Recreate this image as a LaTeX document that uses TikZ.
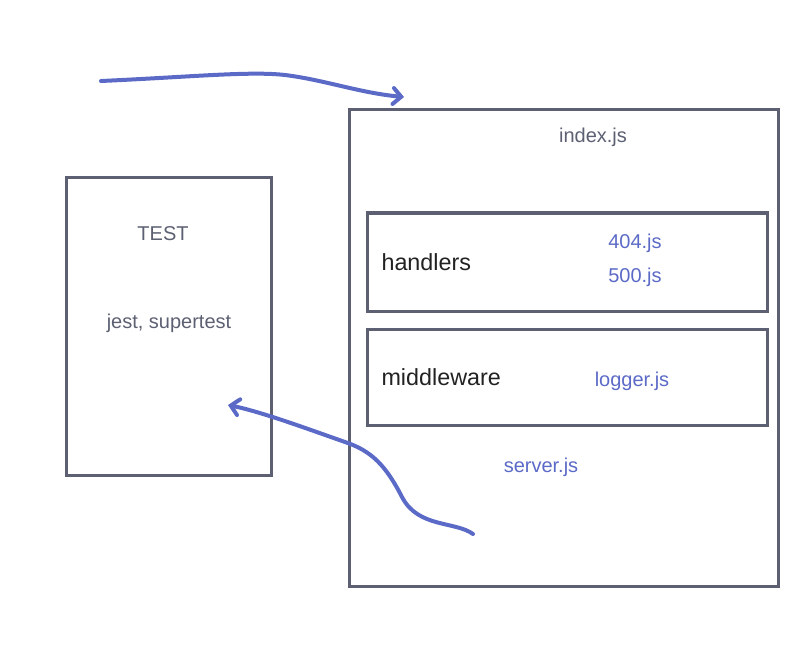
\documentclass[tikz,border=0pt]{standalone}
\usepackage{fontspec}
\setmainfont{Liberation Sans}
\usetikzlibrary{positioning}
\usetikzlibrary{arrows.meta}

\definecolor{boxgrey}{HTML}{5C6072}
\definecolor{penblue}{HTML}{5B6AC6}
\definecolor{inkblack}{HTML}{222222}

\begin{document}
\begin{tikzpicture}[x=0.75pt, y=-0.75pt,
  box/.style={draw=boxgrey, line width=2.25pt, rectangle, inner sep=0pt},
  greytext/.style={text=boxgrey, font=\fontsize{15}{18}\selectfont},
  bluetext/.style={text=penblue, font=\fontsize{15}{18}\selectfont},
  bigtext/.style={text=inkblack, font=\fontsize{17.5}{21}\selectfont},
  pen/.style={draw=penblue, line width=3pt, line cap=round, line join=round,
    -{Straight Barb[length=6pt, width=12pt, line width=3pt, line cap=round]}}]

  % page
  \useasboundingbox (0, 0) rectangle (808, 660);

  % server box with its parts
  \node at (563.5, 348) (server) [box, minimum width=321.75pt, minimum height=357pt] {};
  \node at (593, 137) (index) [greytext] {index.js};

  \node at (567, 262) (handlers) [box, minimum width=300pt, minimum height=73.5pt] {};
  \node (handlersLabel) [bigtext, right=8.5pt of handlers.west] {handlers};
  \node at (635, 243) (notFound) [bluetext] {404.js};
  \node at (635, 277) (serverError) [bluetext] {500.js};

  \node at (567, 377) (middleware) [box, minimum width=300pt, minimum height=72pt] {};
  \node (middlewareLabel) [bigtext, right=8.5pt of middleware.west] {middleware};
  \node at (632, 381) (logger) [bluetext] {logger.js};

  \node at (541, 467) (serverFile) [bluetext] {server.js};

  % test box
  \node at (168.5, 326.5) (test) [box, minimum width=153.75pt, minimum height=222.75pt] {};
  \node at (163, 234) (testLabel) [greytext] {TEST};
  \node at (169, 323) (tools) [greytext] {jest, supertest};

  % hand drawn arrows
  \coordinate (entryStart) at (101, 81);
  \coordinate (entryEnd) at (404, 97);
  \draw [pen] (entryStart) .. controls (190, 77) and (250, 71) .. (285, 75)
    .. controls (325, 80) and (360, 93) .. (entryEnd);

  \coordinate (testStart) at (473, 534);
  \coordinate (testEnd) at (228, 405);
  \draw [pen] (testStart) .. controls (455, 521) and (418, 528) .. (402, 497)
    .. controls (386, 466) and (372, 451) .. (345, 442)
    .. controls (305, 428) and (262, 412) .. (testEnd);

\end{tikzpicture}
\end{document}
